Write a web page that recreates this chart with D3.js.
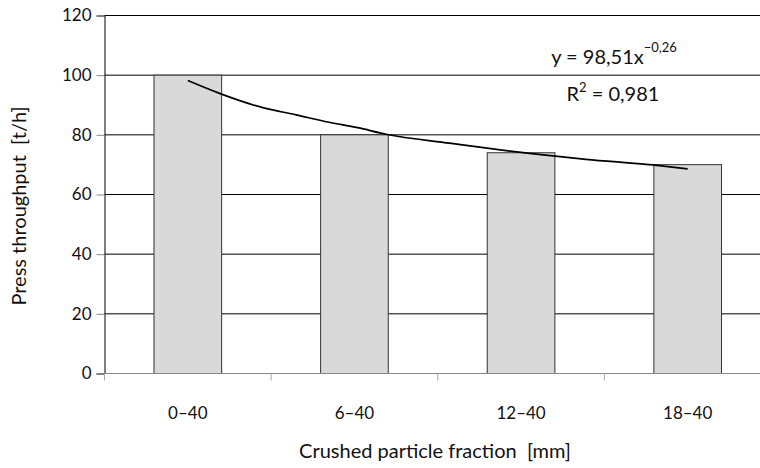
<!DOCTYPE html>
<html>
<head>
<meta charset="utf-8">
<script src="https://cdn.jsdelivr.net/npm/d3@7"></script>
<style>
  body { margin: 0; background: #fff; }
  text { font-family: Lato, "Open Sans", sans-serif; fill: #111; }
</style>
</head>
<body>
<div id="chart"></div>
<script>
var categories = ["0\u201340", "6\u201340", "12\u201340", "18\u201340"];
var throughput = [100, 80, 74, 70];
var yTicks = [0, 20, 40, 60, 80, 100, 120];
// trend curve: [category position (1..4), t/h]
var trendPos = [1.00, 1.19, 1.45, 1.65, 1.83, 2.02, 2.19, 2.57, 3.05, 3.39, 3.79, 4.00];
var trendVal = [98.2, 93.9, 89.1, 86.7, 84.4, 82.4, 80.2, 77.2, 73.8, 71.8, 69.9, 68.6];

var w = 760,
    h = 468,
    m = [15.5, -11, 94.5, 104.5]; // top right bottom left (plot runs past the right edge)

var x = d3.scaleBand()
    .domain(categories)
    .range([m[3], w - m[1]])
    .paddingInner(0.594)
    .paddingOuter(0.297);

var step = x.step();
var xPos = d3.scaleLinear()
    .domain([1, categories.length])
    .range([m[3] + step / 2, m[3] + step * (categories.length - 0.5)]);

var y = d3.scaleLinear()
    .domain([0, 120])
    .range([h - m[2], m[0]]);

var svg = d3.select("#chart").append("svg")
    .attr("width", w)
    .attr("height", h);

// gridlines
svg.append("g")
    .selectAll("line")
    .data(yTicks.filter(function(d) { return d > 0; }))
  .enter().append("line")
    .attr("x1", m[3])
    .attr("x2", w)
    .attr("y1", function(d) { return y(d); })
    .attr("y2", function(d) { return y(d); })
    .attr("stroke", "#000")
    .attr("stroke-width", 1);

// bars
svg.append("g")
    .selectAll("rect")
    .data(throughput)
  .enter().append("rect")
    .attr("x", function(d, i) { return x(categories[i]); })
    .attr("y", function(d) { return y(d); })
    .attr("width", x.bandwidth())
    .attr("height", function(d) { return y(0) - y(d); })
    .attr("fill", "#d9d9d9")
    .attr("stroke", "#333")
    .attr("stroke-width", 1);

// y axis
var yAxis = svg.append("g")
    .attr("transform", "translate(" + m[3] + ",0)")
    .call(d3.axisLeft(y).tickValues(yTicks).tickSize(8).tickPadding(5));
yAxis.select(".domain").attr("stroke", "#000");
yAxis.selectAll(".tick line").attr("stroke", "#888");
yAxis.selectAll(".tick text")
    .attr("font-size", 17)
    .attr("font-family", "Lato, sans-serif")
    .attr("fill", "#111");

// x axis line and category separators
var xg = svg.append("g");
xg.append("line")
    .attr("x1", m[3])
    .attr("x2", w)
    .attr("y1", y(0))
    .attr("y2", y(0) + 0)
    .attr("stroke", "#888");
xg.selectAll("line.sep")
    .data(d3.range(categories.length))
  .enter().append("line")
    .attr("class", "sep")
    .attr("x1", function(i) { return m[3] + i * step; })
    .attr("x2", function(i) { return m[3] + i * step; })
    .attr("y1", y(0))
    .attr("y2", y(0) + 7)
    .attr("stroke", "#aaa");
xg.selectAll("text")
    .data(categories)
  .enter().append("text")
    .attr("x", function(d) { return x(d) + x.bandwidth() / 2; })
    .attr("y", y(0) + 45)
    .attr("text-anchor", "middle")
    .attr("font-size", 17)
    .text(function(d) { return d; });

// trend line
var line = d3.line()
    .x(function(d, i) { return xPos(trendPos[i]); })
    .y(function(d) { return y(d); })
    .curve(d3.curveMonotoneX);

svg.append("path")
    .datum(trendVal)
    .attr("d", line)
    .attr("fill", "none")
    .attr("stroke", "#000")
    .attr("stroke-width", 1.7);

// equation
var eq = svg.append("text")
    .attr("x", 614)
    .attr("y", 64)
    .attr("text-anchor", "middle")
    .attr("font-size", 20);
eq.append("tspan").text("y = 98,51x");
eq.append("tspan").attr("font-size", 13).attr("dy", -12).text("\u22120,26");

var r2 = svg.append("text")
    .attr("x", 613)
    .attr("y", 101)
    .attr("text-anchor", "middle")
    .attr("font-size", 20);
r2.append("tspan").text("R");
r2.append("tspan").attr("font-size", 13).attr("dy", -9).text("2");
r2.append("tspan").attr("dy", 9).text(" = 0,981");

// axis titles
svg.append("text")
    .attr("transform", "translate(26,206) rotate(-90)")
    .attr("text-anchor", "middle")
    .attr("font-size", 20)
    .attr("xml:space", "preserve")
    .text("Press throughput  [t/h]");

svg.append("text")
    .attr("x", 435)
    .attr("y", 458)
    .attr("text-anchor", "middle")
    .attr("font-size", 20)
    .attr("xml:space", "preserve")
    .text("Crushed particle fraction  [mm]");
</script>
</body>
</html>
